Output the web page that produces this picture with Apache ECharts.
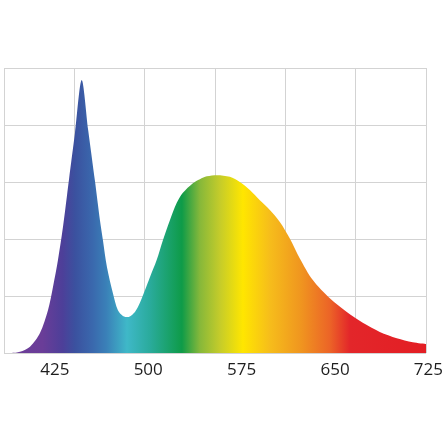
<!DOCTYPE html>
<html>
<head>
<meta charset="utf-8">
<script src="https://cdn.jsdelivr.net/npm/echarts@6/dist/echarts.min.js"></script>
<style>
html,body{margin:0;padding:0;background:#fff;}
#chart{width:446px;height:445px;}
</style>
</head>
<body>
<div id="chart"></div>
<script>
// Data (wavelength in nm, relative intensity)
const wavelengths = [384.2, 390, 397, 405, 413, 419.4, 423.4, 427.4, 431.4, 434.6, 436.2, 441, 446.4, 451.6, 457, 461, 463.4, 466.6, 471.4, 475.4, 479.4, 483.4, 489, 493, 497, 501, 506.4, 511.4, 517, 522.4, 527.4, 535.4, 541, 546.6, 554.6, 565, 573, 581, 589, 597, 605, 613, 621, 631.4, 645, 658.6, 671.4, 685, 698.6, 711.4, 722];
const intensity   = [0, 0, 0.02, 0.11, 0.35, 0.75, 1.16, 1.63, 2.21, 2.76, 3.04, 3.86, 4.79, 3.91, 3.02, 2.33, 1.98, 1.51, 1.05, 0.75, 0.65, 0.63, 0.72, 0.88, 1.1, 1.33, 1.63, 1.98, 2.33, 2.63, 2.81, 2.98, 3.05, 3.1, 3.12, 3.09, 3.0, 2.86, 2.68, 2.51, 2.3, 2.01, 1.66, 1.28, 0.96, 0.72, 0.53, 0.37, 0.26, 0.19, 0.16];
const tickLabels  = [425, 500, 575, 650, 725];

const xMin = 384.2, xMax = 722, labelMax = 725;

// spectrum colours at wavelengths (style)
const spectrumStops = [
  [384.2, '#6e3f99'], [415, '#6a3d98'], [431, '#4d3f99'], [441, '#3b519f'],
  [455, '#3a68ad'], [466, '#3a80b8'], [482.6, '#3fb8c8'], [501, '#2aab9c'], [526.6, '#0e9b48'],
  [541, '#86b83a'], [557, '#c5cc2a'], [575.4, '#ffe600'], [597, '#f6bd1b'],
  [621, '#f0971f'], [645, '#ec6427'], [661, '#e3262a'], [722, '#e31e24']
];

const chart = echarts.init(document.getElementById('chart'), null, {renderer: 'canvas'});
const gridColor = '#d3d3d3';

const option = {
  animation: false,
  backgroundColor: '#fff',
  grid: [
    {left: 4, top: 68, width: 422, height: 285},
    {left: 4, top: 68, width: 426, height: 285}
  ],
  xAxis: [
    {type: 'value', gridIndex: 0, min: xMin, max: xMax,
     axisLine: {show: false}, axisTick: {show: false}, axisLabel: {show: false}, splitLine: {show: false}},
    {type: 'value', gridIndex: 0, min: 0, max: 6, interval: 1, position: 'bottom',
     axisLine: {show: false}, axisTick: {show: false}, axisLabel: {show: false},
     splitLine: {show: true, lineStyle: {color: gridColor, width: 1}}},
    {type: 'value', gridIndex: 1, min: xMin, max: labelMax,
     axisLine: {show: false}, axisTick: {show: false}, splitLine: {show: false},
     axisLabel: {show: true, customValues: tickLabels, margin: 9, fontSize: 17,
                 color: '#1e1e1e', fontFamily: 'Open Sans'}}
  ],
  yAxis: [
    {type: 'value', gridIndex: 0, min: 0, max: 5, interval: 1,
     axisLine: {show: false}, axisTick: {show: false}, axisLabel: {show: false},
     splitLine: {show: true, lineStyle: {color: gridColor, width: 1}}},
    {type: 'value', gridIndex: 1, min: 0, max: 1, show: false}
  ],
  series: [{
    type: 'line',
    xAxisIndex: 0, yAxisIndex: 0,
    data: wavelengths.map((w, i) => [w, intensity[i]]),
    smooth: 0.3,
    symbol: 'none',
    lineStyle: {width: 0},
    areaStyle: {
      opacity: 1,
      color: {
        type: 'linear', x: 0, y: 0, x2: 1, y2: 0,
        colorStops: spectrumStops.map(s => ({offset: (s[0] - xMin) / (xMax - xMin), color: s[1]}))
      }
    },
    z: 3
  }]
};
chart.setOption(option);
</script>
</body>
</html>
